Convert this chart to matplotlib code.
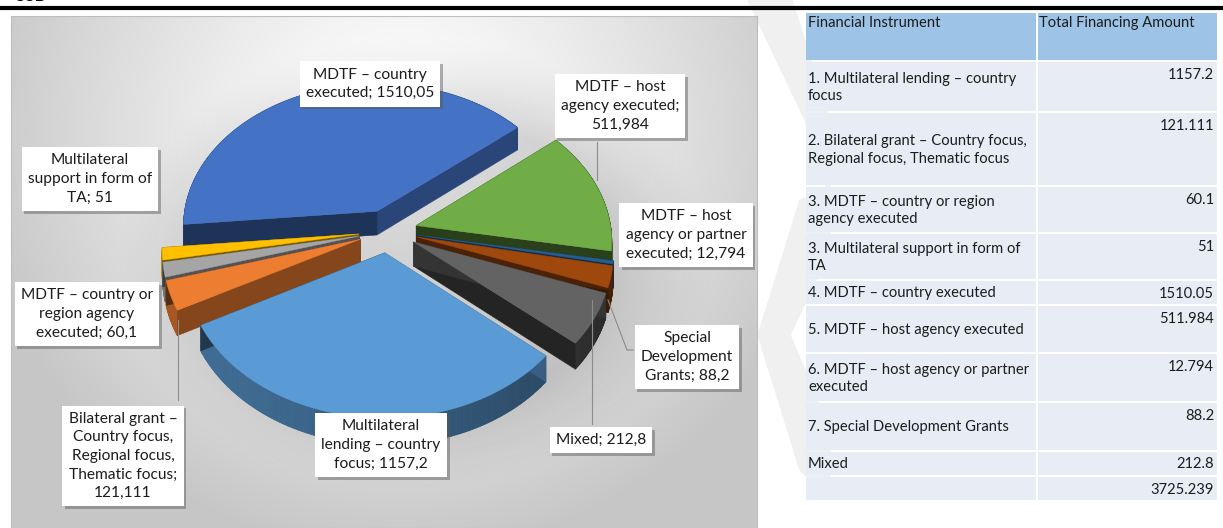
import numpy as np
import matplotlib
matplotlib.use('Agg')
import matplotlib.pyplot as plt
import matplotlib.patheffects as pe
from matplotlib.colors import to_rgb

plt.rcParams['font.family'] = ['Lato', 'DejaVu Sans']

## -------- DATA -------------------- ##

# table rows, in the order of the chart data (clockwise from the start angle)
instruments = [
    '1. Multilateral lending – country\nfocus',
    '2. Bilateral grant – Country focus,\nRegional focus, Thematic focus',
    '3. MDTF – country or region\nagency executed',
    '3. Multilateral support in form of\nTA',
    '4. MDTF – country executed',
    '5. MDTF – host agency executed',
    '6. MDTF – host agency or partner\nexecuted',
    '7. Special Development Grants',
    'Mixed',
]
amounts = [1157.2, 121.111, 60.1, 51, 1510.05, 511.984, 12.794, 88.2, 212.8]
headers = ['Financial Instrument', 'Total Financing Amount']

# data labels on the pie ({} takes the value with a decimal comma)
pie_labels = [
    'Multilateral\nlending – country\nfocus; {}',
    'Bilateral grant –\nCountry focus,\nRegional focus,\nThematic focus;\n{}',
    'MDTF – country or\nregion agency\nexecuted; {}',
    'Multilateral\nsupport in form of\nTA; {}',
    'MDTF – country\nexecuted; {}',
    'MDTF – host\nagency executed;\n{}',
    'MDTF – host\nagency or partner\nexecuted; {}',
    'Special\nDevelopment\nGrants; {}',
    'Mixed; {}',
]
colors = ['#5B9BD5', '#ED7D31', '#A5A5A5', '#FFC000', '#4472C4',
          '#70AD47', '#255E91', '#9E480E', '#636363']

## -------- LAYOUT (pixels) -------------------- ##
W, H = 1223, 528
cx, cy = 388, 231          # pie centre
rx, ry = 195, 144          # pie radii on screen
persp = 0.10               # simple perspective
depth = 24                 # thickness of the pie
explode = 0.15
start_angle = -40.4        # first slice starts here, goes clockwise

label_pos = [(381, 445), (123, 456), (87, 314), (90, 179), (370, 84),
             (620, 106), (686, 235), (687, 357), (601, 440)]
leaders = {5: [(597, 142), (597, 180)],
           7: [(633, 350), (627, 350), (608, 300)],
           8: [(592, 424), (592, 300)],
           1: [(178, 400), (178, 320)]}

tab_x = [806, 1036, 1217]
tab_top = 13
row_h = [47, 49, 72, 45, 45, 23, 46, 47, 47, 23, 23]
gap = 2
txt_col = '#1c1c1c'


def fmt(v):
    return ('%.3f' % v).rstrip('0').rstrip('.')


def proj(X, Y, z=0.0):
    s = 1.0 / (1.0 + persp * Y)
    return cx + X * rx * s, cy - Y * ry * s + z * s


def shade(c, f):
    return tuple(np.clip(np.array(to_rgb(c)) * f, 0, 1))


fig = plt.figure(figsize=(W / 100, H / 100), dpi=100)
ax = fig.add_axes([0, 0, 1, 1])
ax.set_xlim(0, W)
ax.set_ylim(H, 0)
ax.axis('off')

# faint watermark chevrons behind everything
wm = '#f0f0f0'
ax.fill([748, 792, 830, 830, 805], [0, 0, 120, 200, 120], color=wm, zorder=0)
ax.fill([830, 830, 790, 830, 830, 800, 758, 800], [190, 250, 335, 430, 500, 470, 335, 200],
        color=wm, zorder=0)

# heading remnant and rule
ax.text(14, 4, 'USD', fontsize=12, fontweight='bold', va='bottom', ha='left')
ax.plot([0, W], [7.5, 7.5], color='black', lw=3, solid_capstyle='butt')

# chart panel with radial gradient
px0, px1, py0, py1 = 11, 757, 16, 528
gx, gy = np.meshgrid(np.arange(px0, px1), np.arange(py0, py1))
r = np.sqrt(((gx - 400) / 430.0) ** 2 + ((gy - 130) / 420.0) ** 2)
g = 1.0 - 0.22 * np.clip(r, 0, 1) ** 1.3
ax.imshow(np.dstack([g, g, g]), extent=[px0, px1, py1, py0], zorder=1, aspect='auto')
ax.plot([px0, px1, px1, px0, px0], [py1, py1, py0, py0, py1], color='#bdbdbd', lw=0.8, zorder=1)

# soft shadow under the pie
d = np.sqrt(((gx - 415) / 235.0) ** 2 + ((gy - 262) / 178.0) ** 2)
alpha = 0.13 * np.clip((1.3 - d) / 0.45, 0, 1) ** 1.5
sh = np.zeros(d.shape + (4,))
sh[..., 3] = alpha
ax.imshow(sh, extent=[px0, px1, py1, py0], zorder=1.5, aspect='auto')

# ---- 3D exploded pie ----
vals = np.array(amounts, dtype=float)
total = vals.sum()
edges = start_angle - 360 * np.r_[0, np.cumsum(vals)] / total
slices = []
for i in range(len(vals)):
    hi, lo = edges[i], edges[i + 1]
    mid = np.radians((hi + lo) / 2)
    ox, oy = explode * np.cos(mid), explode * np.sin(mid)
    key = proj(ox + 0.6 * np.cos(mid), oy + 0.6 * np.sin(mid))[1]
    slices.append((key, i, lo, hi, ox, oy))
slices.sort()

for key, i, lo, hi, ox, oy in slices:
    t = np.radians(np.linspace(lo, hi, max(3, int((hi - lo) * 2) + 2)))
    X = ox + np.cos(t)
    Y = oy + np.sin(t)
    tx, ty = proj(X, Y)
    bx, by = proj(X, Y, depth)
    # outer wall, lit from the left
    for j in range(len(t) - 1):
        f = 0.55 + 0.15 * np.cos(t[j] - np.radians(200))
        c = shade(colors[i], f)
        ax.fill([tx[j], tx[j + 1], bx[j + 1], bx[j]], [ty[j], ty[j + 1], by[j + 1], by[j]],
                color=c, ec=c, lw=0.6, zorder=2)
    # cut faces, shaded by the way they face
    ax0, ay0 = proj(ox, oy)
    ax1, ay1 = proj(ox, oy, depth)
    for j, nrm in ((0, t[0] - np.pi / 2), (-1, t[-1] + np.pi / 2)):
        c = shade(colors[i], max(0.36, 0.42 + 0.3 * np.cos(nrm)))
        ax.fill([ax0, tx[j], bx[j], ax1], [ay0, ty[j], by[j], ay1], color=c, ec=c, lw=0.4, zorder=2)
    # top face
    ax.fill(np.r_[ax0, tx], np.r_[ay0, ty], color=colors[i], ec=colors[i], lw=0.3, zorder=2)

# leader lines
for i, pts in leaders.items():
    xs, ys = zip(*pts)
    ax.plot(xs, ys, color='#8c8c8c', lw=0.8, zorder=3)

# data labels
for i, (x, y) in enumerate(label_pos):
    txt = pie_labels[i].format(fmt(amounts[i]).replace('.', ','))
    t = ax.text(x, y, txt, ha='center', va='center', fontsize=11.2, linespacing=1.42,
                color=txt_col, zorder=4,
                bbox=dict(boxstyle='square,pad=0.4', fc='white', ec='none'))
    t.get_bbox_patch().set_path_effects([
        pe.SimplePatchShadow(offset=(2, -2), shadow_rgbFace='0.35', alpha=0.45), pe.Normal()])

# ---- table ----
rows = [headers] + [[n, fmt(v)] for n, v in zip(instruments, amounts)] + [['', fmt(total)]]
fs = 10.6
y = tab_top
for k, (name, val) in enumerate(rows):
    h = row_h[k]
    fill = '#9DC3E6' if k == 0 else '#E7ECF5'
    for c0, c1 in ((tab_x[0], tab_x[1]), (tab_x[1] + gap, tab_x[2])):
        ax.add_patch(plt.Rectangle((c0, y), c1 - c0, h, fc=fill, ec='none', zorder=2))
    if k == 0:
        ax.text(tab_x[0] + 2, y + 3, name, ha='left', va='top', fontsize=fs, color=txt_col, zorder=3)
        ax.text(tab_x[1] + gap + 1, y + 3, val, ha='left', va='top', fontsize=fs, color=txt_col, zorder=3)
    else:
        ax.text(tab_x[0] + 2, y + h / 2 + 1, name, ha='left', va='center', fontsize=fs,
                linespacing=1.35, color=txt_col, zorder=3)
        ax.text(tab_x[2] - 3, y + min(13, h / 2 + 1), val, ha='right', va='center', fontsize=fs,
                color=txt_col, zorder=3)
    y += h + gap

fig.savefig('out.png', dpi=100)
